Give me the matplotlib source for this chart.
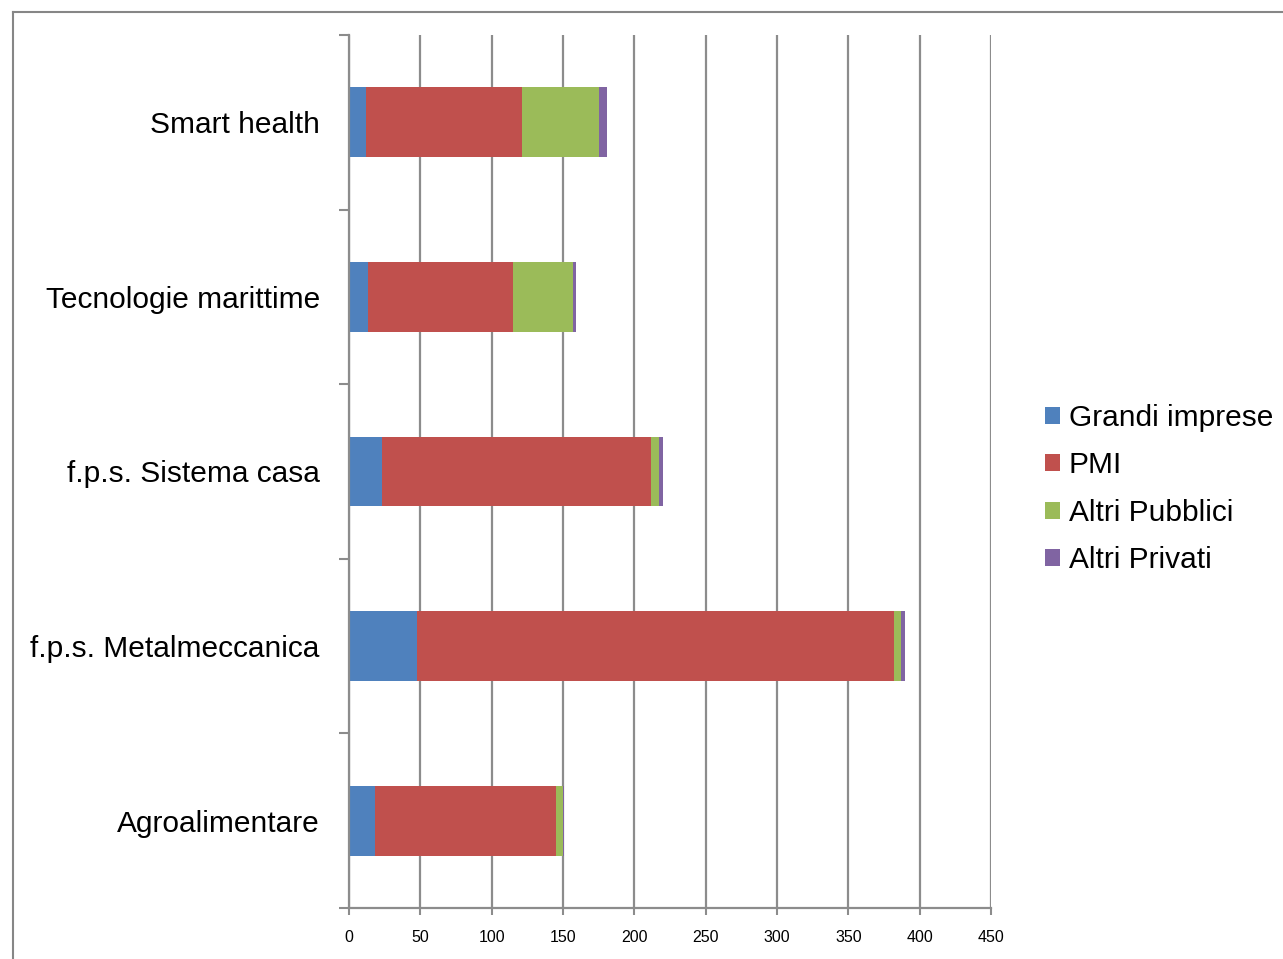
import numpy as np
import matplotlib
matplotlib.use("Agg")
import matplotlib.pyplot as plt
from matplotlib.lines import Line2D
from matplotlib.patches import Patch

# data, bottom to top as drawn
categories = ["Agroalimentare", "f.p.s. Metalmeccanica", "f.p.s. Sistema casa",
              "Tecnologie marittime", "Smart health"]
grandi_imprese = [18, 48, 23, 13, 12]
pmi = [127, 334, 189, 102, 109]
altri_pubblici = [5, 5, 5, 42, 54]
altri_privati = [1, 3, 3, 2, 6]

series_names = ["Grandi imprese", "PMI", "Altri Pubblici", "Altri Privati"]
colors = ["#4F81BD", "#C0504D", "#9BBB59", "#8064A2"]
x_ticks = [0, 50, 100, 150, 200, 250, 300, 350, 400, 450]

plt.rcParams["font.family"] = ["Liberation Sans", "DejaVu Sans"]

W, H = 1283, 959
fig = plt.figure(figsize=(W / 100, H / 100), dpi=100)
ax = fig.add_axes([349 / W, 1 - 908 / H, (991 - 349) / W, (908 - 35) / H])

grid_col = "#8c8c8c"
ax.set_axisbelow(True)
ax.xaxis.grid(True, color=grid_col, linewidth=1.6)
ax.yaxis.grid(False)

y = np.arange(len(categories))
left = np.zeros(len(categories))
for vals, name, col in zip([grandi_imprese, pmi, altri_pubblici, altri_privati],
                           series_names, colors):
    ax.barh(y, vals, left=left, height=0.4, color=col, label=name)
    left += np.array(vals)

ax.set_xlim(0, 450)
ax.set_ylim(-0.5, len(categories) - 0.5)
ax.set_xticks(x_ticks)
ax.set_xticklabels([str(t) for t in x_ticks], fontsize=11.5)
ax.set_yticks(y)
ax.set_yticklabels(categories, fontsize=21.5)
ax.set_yticks(np.arange(-0.5, len(categories)), minor=True)
ax.tick_params(axis="y", which="major", length=0, pad=21)
ax.tick_params(axis="y", which="minor", length=7, color=grid_col, width=1.5)
ax.tick_params(axis="x", length=5, color=grid_col, width=1.5, pad=11)

for s in ["top", "right"]:
    ax.spines[s].set_visible(False)
for s in ["left", "bottom"]:
    ax.spines[s].set_color(grid_col)
    ax.spines[s].set_linewidth(1.6)

handles = [Patch(facecolor=c, edgecolor="none") for c in colors]
fig.legend(handles, series_names, loc="center left",
           bbox_to_anchor=(1033 / W, 1 - 489 / H), frameon=False,
           fontsize=21.5, handlelength=0.5, handleheight=0.5,
           handletextpad=0.3, labelspacing=0.65, borderaxespad=0)

# outer chart border
fig.add_artist(Line2D([13 / W, 13 / W], [0, 1 - 12 / H], transform=fig.transFigure,
                      color="#868686", linewidth=1.5))
fig.add_artist(Line2D([13 / W, 1], [1 - 12 / H, 1 - 12 / H], transform=fig.transFigure,
                      color="#868686", linewidth=1.5))

fig.savefig("out.png", dpi=100)
